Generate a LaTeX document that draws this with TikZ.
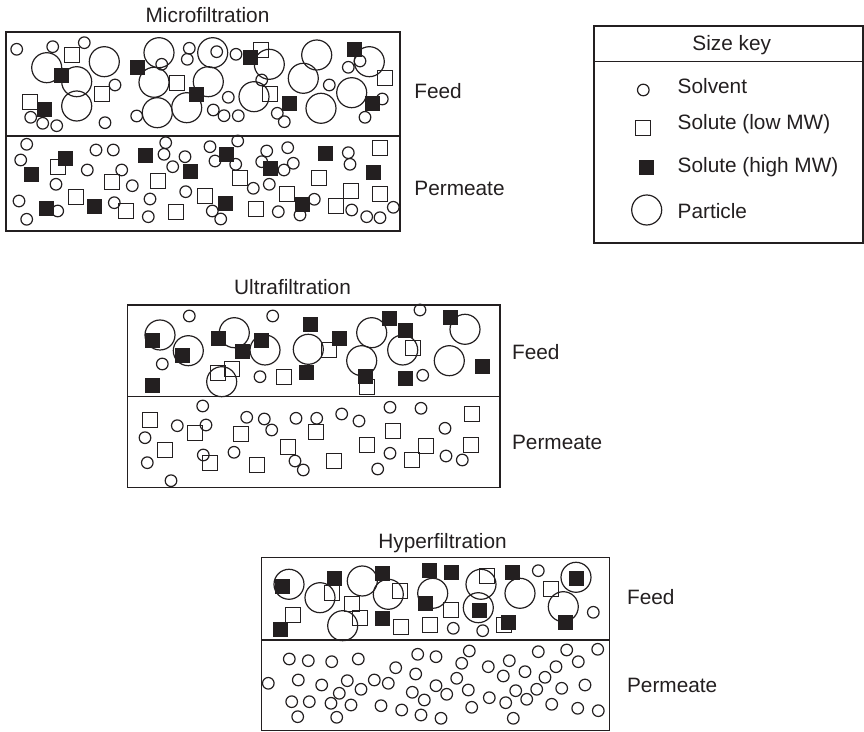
\documentclass[tikz,border=0pt]{standalone}
\usepackage{fontspec}
\setmainfont{Liberation Sans}
\usepackage{tikz}
\usetikzlibrary{positioning}
\definecolor{SKInk}{HTML}{231F20}

\begin{document}
\begin{tikzpicture}[
  x=0.5pt,y=-0.5pt,
  panel/.style={draw=SKInk,line width=0.75pt},
  solvent/.style={draw=SKInk,line width=0.6pt},
  particle/.style={draw=SKInk,line width=0.6pt},
  lowmw/.style={draw=SKInk,line width=0.6pt},
  highmw/.style={fill=SKInk},
  lbl/.style={anchor=base west,inner sep=0pt,text=SKInk,font=\fontsize{10.4}{12}\selectfont},
  ttl/.style={lbl,anchor=base}
]
\useasboundingbox (0,0) rectangle (864,732);

% panels
\draw[panel] (6,32) rectangle (400,231);
\draw[panel] (6,136) -- (400,136);
\draw[panel] (127.3,305) rectangle (500,487.3);
\draw[panel] (127.3,396.7) -- (500,396.7);
\draw[panel] (261.7,557.3) rectangle (609.3,730.5);
\draw[panel] (261.7,640) -- (609.3,640);
\draw[panel] (594,26) rectangle (863,243);
\draw[panel] (594,61.7) -- (863,61.7);

% titles and labels
\node[ttl] (mftitle) at (207.5,22.7) {Microfiltration};
\node[ttl] (uftitle) at (292.5,295) {Ultrafiltration};
\node[ttl] (hftitle) at (442.5,548.3) {Hyperfiltration};
\node[ttl] (keytitle) at (731.7,50.7) {Size key};
\node[lbl] (mffeed) at (414,99) {Feed};
\node[lbl] (mfperm) at (414,196) {Permeate};
\node[lbl] (uffeed) at (511.7,359.3) {Feed};
\node[lbl] (ufperm) at (511.7,450) {Permeate};
\node[lbl] (hffeed) at (626.7,604.3) {Feed};
\node[lbl] (hfperm) at (626.7,692.7) {Permeate};

% size key
\draw[solvent] (643.3,90) circle[radius=2.9pt];
\draw[lowmw] (643.3,128.3) ++(-7.5,-7.5) rectangle ++(15,15);
\fill[highmw] (646.7,167.2) ++(-7.5,-7.5) rectangle ++(15,15);
\draw[particle] (646.7,210) circle[radius=7.5pt];
\node[lbl] (ksolv) at (677.3,93.3) {Solvent};
\node[lbl] (klow) at (677.3,130) {Solute (low MW)};
\node[lbl] (khigh) at (677.3,172.7) {Solute (high MW)};
\node[lbl] (kpart) at (677.3,218.3) {Particle};

% microfiltration, feed
\foreach \p in {(16.7,49.3),(52.7,46.7),(84.3,42.7),(115,85),(30.7,117.3),(42.7,123.3),(56.7,125.7),(105,122.7),(161.7,64.3),(189.3,48.3),(187.3,59.3),(216.7,51.7),(236,54.3),(261.7,80),(228.3,97.3),(136.7,116),(213.3,110),(224,115.7),(238.3,115.7),(277.3,113.3),(284.3,121.7),(329.3,85),(348.3,67.3),(360,61),(382.3,99),(365,117.3)}
  \draw[solvent] \p circle[radius=2.9pt];
\foreach \p in {(46.7,67.7),(76.7,81.7),(104.3,61.7),(76.7,106),(159,52.7),(154,82.3),(208.3,81.7),(212.7,52.7),(157.3,112.7),(186.7,107.7),(269.3,64.3),(254,96.7),(316.7,55),(303.3,78.3),(321,108.3),(369.3,61.7),(351.7,92.7)}
  \draw[particle] \p circle[radius=7.5pt];
\foreach \p in {(72.3,55.3),(102.3,94.3),(30,101.7),(176.7,82.7),(260.7,50),(270,94.3),(385,78.3)}
  \draw[lowmw] \p ++(-7.5,-7.5) rectangle ++(15,15);
\foreach \p in {(61.7,76),(44.3,110),(137.7,67.7),(196,94.3),(250,57.7),(289.3,104),(354,49.3),(372.7,104)}
  \fill[highmw] \p ++(-7.5,-7.5) rectangle ++(15,15);

% microfiltration, permeate
\foreach \p in {(26.7,144.3),(20.7,160),(96,150),(113.3,150),(165.7,142.7),(164,154.3),(172.7,166.7),(185,156.7),(210,146.7),(215,161),(237.7,141),(235.7,164.3),(266.7,151),(287.7,147.7),(261.7,161.7),(293.3,163.3),(284,170),(348.3,152.7),(350,164.3),(87.3,170),(121.7,170),(56,184.3),(132.3,185.7),(253.3,188.3),(269.3,184.3),(185.7,191.7),(19,201),(26.7,219.3),(57.7,211),(114.3,202.7),(150,199),(148.3,216.7),(212.3,211),(220.7,219),(278.3,211.7),(300,215),(314.3,199.3),(351.7,210),(366.7,216.7),(380,217.7),(393.3,207.3)}
  \draw[solvent] \p circle[radius=2.9pt];
\foreach \p in {(58.3,166.7),(111.7,181.7),(158.3,181),(76,196.7),(126,211),(176,212.3),(205,195.7),(240,177.7),(256,209.3),(286.7,194.3),(319,177.7),(336,206),(351,191),(380,148.3),(380,194)}
  \draw[lowmw] \p ++(-7.5,-7.5) rectangle ++(15,15);
\foreach \p in {(65.7,159),(31.7,174.3),(145.7,155.7),(190.7,171.7),(226,154.3),(270.7,168.3),(325.7,153.3),(373.3,172.7),(46.7,208.3),(94.3,206.7),(225,203.3),(302.3,204.3)}
  \fill[highmw] \p ++(-7.5,-7.5) rectangle ++(15,15);

% ultrafiltration, feed
\foreach \p in {(189.3,316),(272.7,316),(420,310),(162.3,364),(260,376.7),(422.7,375.3)}
  \draw[solvent] \p circle[radius=2.9pt];
\foreach \p in {(160,335),(188.3,350.7),(234.3,332.7),(265,350),(308.3,349.3),(371.7,332.7),(361.7,360.7),(402.7,350),(465,329.3),(449.3,360.7),(221.7,381.7)}
  \draw[particle] \p circle[radius=7.5pt];
\foreach \p in {(217.7,373.3),(232.3,369.3),(284.3,376.7),(329,350),(413.3,347.7),(366.7,386.7)}
  \draw[lowmw] \p ++(-7.5,-7.5) rectangle ++(15,15);
\foreach \p in {(152.7,340.7),(182.7,356),(218.3,339),(242.7,351.7),(261.7,340.7),(310,325),(339,339),(306.7,372.7),(152.3,385.7),(389,319),(405,331),(450,317.7),(365,376.7),(405.7,379),(482.7,366.7)}
  \fill[highmw] \p ++(-7.5,-7.5) rectangle ++(15,15);

% ultrafiltration, permeate
\foreach \p in {(202.7,406),(177.3,425.7),(206,425),(145,437.7),(203.3,455),(147.3,462.7),(171,480.7),(246.7,417.3),(264.3,419),(271.7,430),(296,418.3),(316.7,418.3),(341.7,414),(359,421),(234,452.3),(295,461),(303.3,470),(390,407.3),(421,408.3),(390,453.3),(377.7,469),(445,428.3),(446,456),(462.3,460)}
  \draw[solvent] \p circle[radius=2.9pt];
\foreach \p in {(150,420),(195,433.3),(165,450),(210,463.3),(240.7,434),(288.3,447.3),(315.7,431.7),(257.3,465),(334.3,461),(393.3,431),(366.7,445),(412.3,460),(426,446),(471.7,414),(471,445)}
  \draw[lowmw] \p ++(-7.5,-7.5) rectangle ++(15,15);

% hyperfiltration, feed
\foreach \p in {(538.3,570.7),(593.3,612.3),(453.3,628.3),(482.7,630.7)}
  \draw[solvent] \p circle[radius=2.9pt];
\foreach \p in {(289,584.3),(320,597.7),(362.3,581),(388.3,594.3),(342.7,625.7),(432.7,593.3),(481,584.3),(478.3,607.7),(520,593.3),(576,577.3),(563.3,606.7)}
  \draw[particle] \p circle[radius=7.5pt];
\foreach \p in {(332.3,592.7),(293.3,615),(352.3,604.3),(360,617.7),(400,591),(401,626.7),(451,610),(430,625),(486.7,576),(504,625),(551,589)}
  \draw[lowmw] \p ++(-7.5,-7.5) rectangle ++(15,15);
\foreach \p in {(282.7,586.7),(334,578.3),(382,573.3),(280.7,629.3),(382.7,618.3),(429.3,570.7),(451.7,572.7),(425.7,604),(479.3,610.7),(512.7,572.3),(508.3,622.7),(576.7,578.3),(565.7,622.7)}
  \fill[highmw] \p ++(-7.5,-7.5) rectangle ++(15,15);

% hyperfiltration, permeate
\foreach \p in {(289.3,659),(308.3,660.7),(331.7,661.7),(358.3,659),(268.3,683.3),(298.3,680),(321.7,685),(347.3,680.7),(339.3,693.3),(361,689.3),(374.3,680),(388.3,683.3),(395.7,667.7),(291.7,701.7),(309.3,701.7),(331,703.3),(351,705),(297.7,716.7),(336.7,717.3),(381,705.7),(401.7,710),(417.7,654.3),(436,656.7),(415.7,674),(412.3,692.3),(424.3,700),(436,685.7),(446.7,694.3),(421,715),(441,718.3),(469.3,651),(461.7,663.3),(456.7,678.3),(468.3,690),(471.7,707.3),(488.3,666.7),(489.3,697.7),(509.3,660.7),(503.3,676),(515.7,690.7),(505.7,702.7),(513.3,718.3),(525,671.7),(526.7,699.3),(538.3,651.7),(545,677.3),(536.7,689.3),(556,666.7),(561.7,688.3),(551.7,704.3),(566.7,650),(578.3,661.7),(585,685),(577.7,708.3),(597.7,649.3),(598.3,710.7)}
  \draw[solvent] \p circle[radius=2.9pt];
\end{tikzpicture}
\end{document}
